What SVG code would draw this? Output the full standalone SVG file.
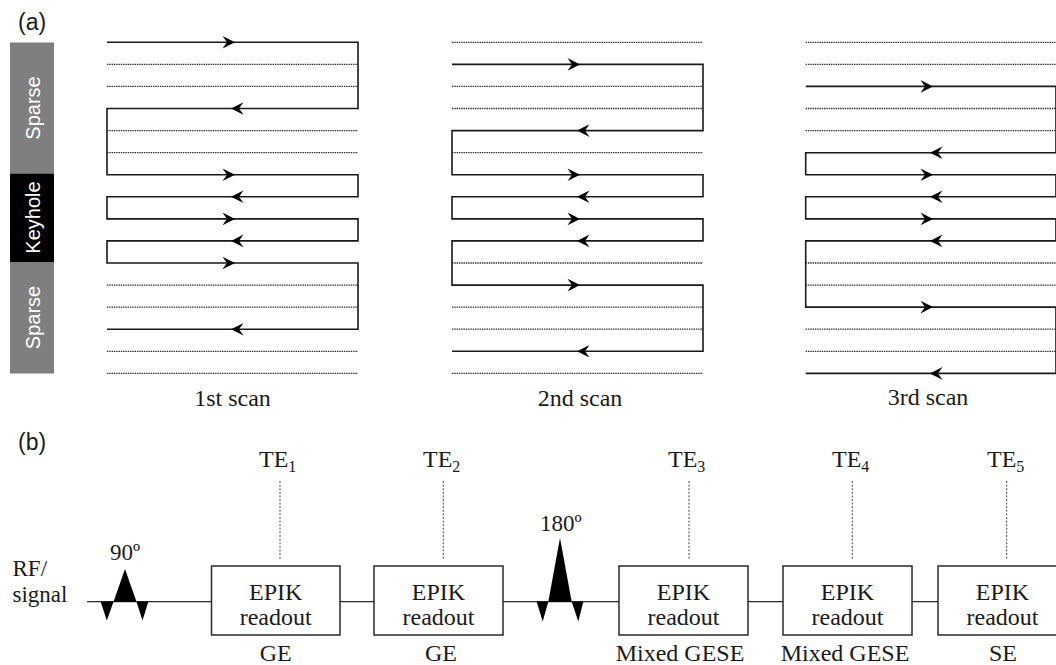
<svg xmlns="http://www.w3.org/2000/svg" xmlns:xlink="http://www.w3.org/1999/xlink" width="1056" height="665" viewBox="0 0 1056 665">
  <style>
    .serif { font-family: "Liberation Serif", "Times New Roman", serif; fill: #1a1a1a; }
    .sans { font-family: "Liberation Sans", Arial, sans-serif; }
    .lbl { font-size: 24px; }
    .sub { font-size: 16px; }
    .bar-txt { font-family: "Liberation Sans", Arial, sans-serif; font-size: 20px; fill: #ffffff; text-anchor: middle; }
    .traj { fill: none; stroke: #1a1a1a; stroke-width: 1.6; }
    .dot { fill: none; stroke: #2a2a2a; stroke-width: 1.3; stroke-dasharray: 1.4 0.9; }
    .box { fill: #ffffff; stroke: #2a2a2a; stroke-width: 1.5; }
    .axis { fill: none; stroke: #2a2a2a; stroke-width: 1.3; }
    .te { fill: none; stroke: #444444; stroke-width: 1; stroke-dasharray: 2 1.6; }
    .pulse { fill: #000000; stroke: none; }
  </style>
  <defs>
    <!-- concave arrowheads, tip at the origin -->
    <path id="arrR" d="M0,0 L-12.5,-6.3 L-8,0 L-12.5,6.3 Z" fill="#000"/>
    <path id="arrL" d="M0,0 L12.5,-6.3 L8,0 L12.5,6.3 Z" fill="#000"/>
  </defs>

  <!-- (a) k-space trajectories -->
  <text class="sans" x="18" y="30" font-size="23" fill="#1a1a1a">(a)</text>

  <g id="kspace-bar">
    <rect x="10" y="42.5" width="44" height="131" fill="#7f7f7f"/>
    <rect x="10" y="173.5" width="44" height="88.5" fill="#000000"/>
    <rect x="10" y="262" width="44" height="111.5" fill="#7f7f7f"/>
    <text class="bar-txt" transform="translate(39.5,108) rotate(-90)">Sparse</text>
    <text class="bar-txt" transform="translate(39.5,217.5) rotate(-90)">Keyhole</text>
    <text class="bar-txt" transform="translate(39.5,317.5) rotate(-90)">Sparse</text>
  </g>

  <g id="scan1">
    <g class="dot">
      <path d="M107,64.4 H358 M107,86.4 H358 M107,130.6 H358 M107,152.7 H358 M107,285.1 H358 M107,307.1 H358 M107,351.3 H358 M107,373.4 H358"/>
    </g>
    <path class="traj" d="M107,42.3 H358 V108.5 H107 V174.7 H358 V196.8 H107 V218.9 H358 V240.9 H107 V263 H358 V329.2 H107"/>
    <use xlink:href="#arrR" x="235" y="42.3"/>
    <use xlink:href="#arrL" x="231" y="108.5"/>
    <use xlink:href="#arrR" x="235" y="174.7"/>
    <use xlink:href="#arrL" x="231" y="196.8"/>
    <use xlink:href="#arrR" x="235" y="218.9"/>
    <use xlink:href="#arrL" x="231" y="240.9"/>
    <use xlink:href="#arrR" x="235" y="263"/>
    <use xlink:href="#arrL" x="231" y="329.2"/>
    <text class="serif lbl" x="232.5" y="406" text-anchor="middle">1st scan</text>
  </g>

  <g id="scan2">
    <g class="dot">
      <path d="M452,42.3 H703 M452,86.4 H703 M452,108.5 H703 M452,152.7 H703 M452,263 H703 M452,307.1 H703 M452,329.2 H703 M452,373.4 H703"/>
    </g>
    <path class="traj" d="M452,64.4 H703 V130.6 H452 V174.7 H703 V196.8 H452 V218.9 H703 V240.9 H452 V285.1 H703 V351.3 H452"/>
    <use xlink:href="#arrR" x="580" y="64.4"/>
    <use xlink:href="#arrL" x="577" y="130.6"/>
    <use xlink:href="#arrR" x="580" y="174.7"/>
    <use xlink:href="#arrL" x="577" y="196.8"/>
    <use xlink:href="#arrR" x="580" y="218.9"/>
    <use xlink:href="#arrL" x="577" y="240.9"/>
    <use xlink:href="#arrR" x="580" y="285.1"/>
    <use xlink:href="#arrL" x="577" y="351.3"/>
    <text class="serif lbl" x="580" y="406" text-anchor="middle">2nd scan</text>
  </g>

  <g id="scan3">
    <g class="dot">
      <path d="M805.7,42.3 H1056 M805.7,64.4 H1056 M805.7,108.5 H1056 M805.7,130.6 H1056 M805.7,263 H1056 M805.7,285.1 H1056 M805.7,329.2 H1056 M805.7,351.3 H1056"/>
    </g>
    <path class="traj" d="M805.7,86.4 H1056 V152.7 H805.7 V174.7 H1056 V196.8 H805.7 V218.9 H1056 V240.9 H805.7 V307.1 H1056 V373.4 H805.7"/>
    <use xlink:href="#arrR" x="933" y="86.4"/>
    <use xlink:href="#arrL" x="930" y="152.7"/>
    <use xlink:href="#arrR" x="933" y="174.7"/>
    <use xlink:href="#arrL" x="930" y="196.8"/>
    <use xlink:href="#arrR" x="933" y="218.9"/>
    <use xlink:href="#arrL" x="930" y="240.9"/>
    <use xlink:href="#arrR" x="933" y="307.1"/>
    <use xlink:href="#arrL" x="930" y="373.4"/>
    <text class="serif lbl" x="928" y="405" text-anchor="middle">3rd scan</text>
  </g>

  <!-- (b) pulse sequence timing -->
  <text class="sans" x="18" y="450" font-size="23" fill="#1a1a1a">(b)</text>

  <g id="rf-label">
    <text class="serif" x="12.5" y="576" font-size="23">RF/</text>
    <text class="serif" x="12.5" y="602" font-size="23">signal</text>
  </g>

  <g id="connectors">
    <path class="axis" d="M87,601.7 H211.5 M340,601.7 H374 M503,601.7 H619 M748,601.7 H783 M912,601.7 H938"/>
    <path class="te" d="M280,481 V560 M443.3,481 V560 M689,481 V560 M852.3,481 V560 M1006.7,481 V560"/>
  </g>

  <g id="pulse-90">
    <path class="pulse" d="M113.5,601.7 L125,569 L136.5,601.7 Z M100.7,601.7 L113.5,601.7 L106.8,620.5 Z M136.5,601.7 L148.3,601.7 L142.5,620.5 Z"/>
    <text class="serif" x="110" y="560" font-size="23">90º</text>
  </g>

  <g id="pulse-180">
    <path class="pulse" d="M548.3,601.7 L560,538 L571.7,601.7 Z M536.7,601.7 L548.3,601.7 L542.7,621.5 Z M571.7,601.7 L583.3,601.7 L578.3,621.5 Z"/>
    <text class="serif" x="540" y="531" font-size="23">180º</text>
  </g>

  <g id="readout-1">
    <rect class="box" x="211.5" y="566" width="128.5" height="69"/>
    <text class="serif lbl" x="275.7" y="600" text-anchor="middle">EPIK</text>
    <text class="serif lbl" x="275.7" y="625" text-anchor="middle">readout</text>
    <text class="serif lbl" x="259" y="467">TE<tspan class="sub" dy="5">1</tspan></text>
    <text class="serif lbl" x="275.7" y="661" text-anchor="middle">GE</text>
  </g>

  <g id="readout-2">
    <rect class="box" x="374" y="566" width="129" height="69"/>
    <text class="serif lbl" x="438.5" y="600" text-anchor="middle">EPIK</text>
    <text class="serif lbl" x="438.5" y="625" text-anchor="middle">readout</text>
    <text class="serif lbl" x="423" y="467">TE<tspan class="sub" dy="5">2</tspan></text>
    <text class="serif lbl" x="441" y="661" text-anchor="middle">GE</text>
  </g>

  <g id="readout-3">
    <rect class="box" x="619" y="566" width="129" height="69"/>
    <text class="serif lbl" x="683.5" y="600" text-anchor="middle">EPIK</text>
    <text class="serif lbl" x="683.5" y="625" text-anchor="middle">readout</text>
    <text class="serif lbl" x="668" y="467">TE<tspan class="sub" dy="5">3</tspan></text>
    <text class="serif lbl" x="680" y="661" text-anchor="middle">Mixed GESE</text>
  </g>

  <g id="readout-4">
    <rect class="box" x="783" y="566" width="129" height="69"/>
    <text class="serif lbl" x="847.5" y="600" text-anchor="middle">EPIK</text>
    <text class="serif lbl" x="847.5" y="625" text-anchor="middle">readout</text>
    <text class="serif lbl" x="832" y="467">TE<tspan class="sub" dy="5">4</tspan></text>
    <text class="serif lbl" x="845" y="661" text-anchor="middle">Mixed GESE</text>
  </g>

  <g id="readout-5">
    <rect class="box" x="938" y="566" width="129" height="69"/>
    <text class="serif lbl" x="1002.5" y="600" text-anchor="middle">EPIK</text>
    <text class="serif lbl" x="1002.5" y="625" text-anchor="middle">readout</text>
    <text class="serif lbl" x="987" y="467">TE<tspan class="sub" dy="5">5</tspan></text>
    <text class="serif lbl" x="1003" y="661" text-anchor="middle">SE</text>
  </g>
</svg>
